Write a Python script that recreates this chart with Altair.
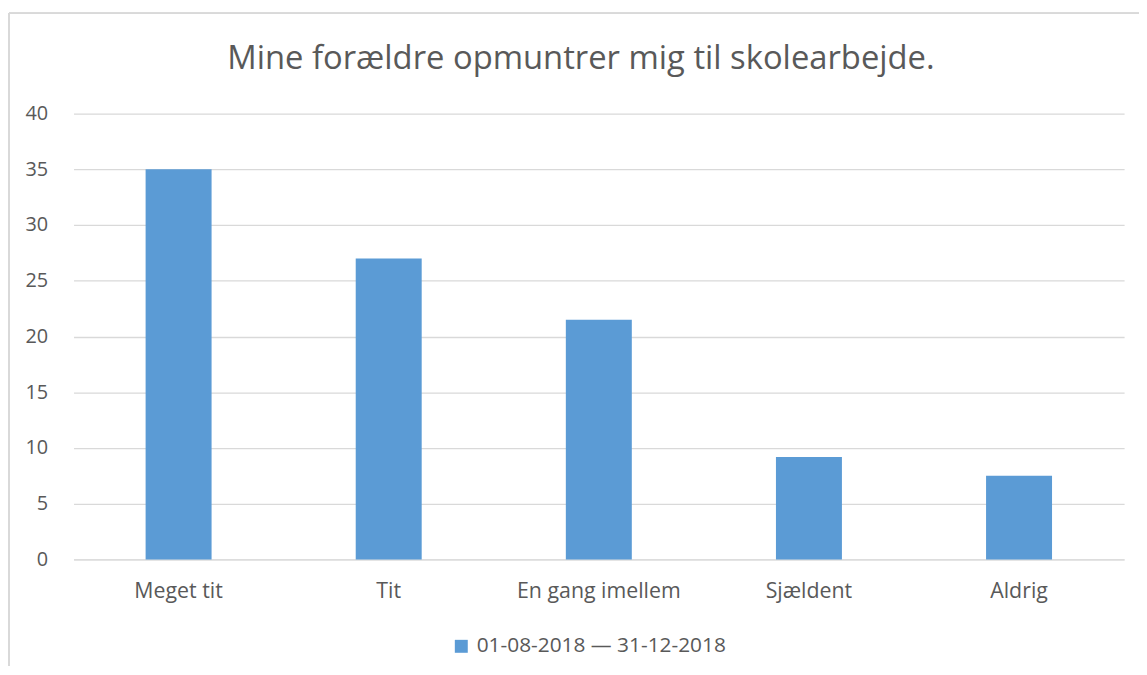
import altair as alt
import pandas as pd

categories = ["Meget tit", "Tit", "En gang imellem", "Sjældent", "Aldrig"]
values = [35.0, 27.0, 21.5, 9.2, 7.5]
series_name = "01-08-2018 — 31-12-2018"
title_text = "Mine forældre opmuntrer mig til skolearbejde."

df = pd.DataFrame({"kategori": categories, "vaerdi": values, "serie": [series_name] * len(categories)})

FONT = "Open Sans"
GRAY = "#595959"
GRID = "#d9d9d9"
BLUE = "#5b9bd5"

bars = alt.Chart(df).mark_bar(color=BLUE).encode(
    x=alt.X("kategori:N", sort=categories,
            scale=alt.Scale(paddingInner=0.686, paddingOuter=0.343),
            axis=alt.Axis(title=None, labelAngle=0, labelFontSize=21.5, labelColor=GRAY,
                          labelFont=FONT, ticks=False, domainColor=GRID, labelPadding=21)),
    y=alt.Y("vaerdi:Q", scale=alt.Scale(domain=[0, 40], nice=False),
            axis=alt.Axis(title=None, values=[0, 5, 10, 15, 20, 25, 30, 35, 40],
                          labelFontSize=20, labelColor=GRAY, labelFont=FONT, ticks=False,
                          domain=False, gridColor=GRID, gridWidth=1.3, labelPadding=26)),
    color=alt.Color("serie:N", scale=alt.Scale(range=[BLUE]),
                    legend=alt.Legend(title=None, orient="none", legendX=380, legendY=526,
                                      symbolType="square", symbolSize=170, symbolStrokeWidth=0,
                                      labelFontSize=21, labelColor=GRAY, labelFont=FONT,
                                      labelOffset=5, labelLimit=500)),
)

border_left = alt.Chart(df).mark_rule(color=GRID, strokeWidth=1.5).encode(
    x=alt.value(-65), y=alt.value(-101), y2=alt.value(570)
)
border_top = alt.Chart(df).mark_rule(color=GRID, strokeWidth=1.5).encode(
    x=alt.value(-65), x2=alt.value(1100), y=alt.value(-101)
)
title_mark = alt.Chart(pd.DataFrame({"t": [title_text]})).mark_text(
    fontSize=33, font=FONT, color=GRAY, align="center", baseline="middle"
).encode(text="t:N", x=alt.value(511), y=alt.value(-55))

chart = alt.layer(border_left, border_top, title_mark, bars).properties(
    width=1058,
    height=449,
    autosize=alt.AutoSizeParams(type="none"),
    padding={"left": 66, "top": 104, "right": 15, "bottom": 105},
).configure(background="white").configure_view(stroke=None)

chart.save("out.html", embed_options={"renderer": "svg", "actions": False})
